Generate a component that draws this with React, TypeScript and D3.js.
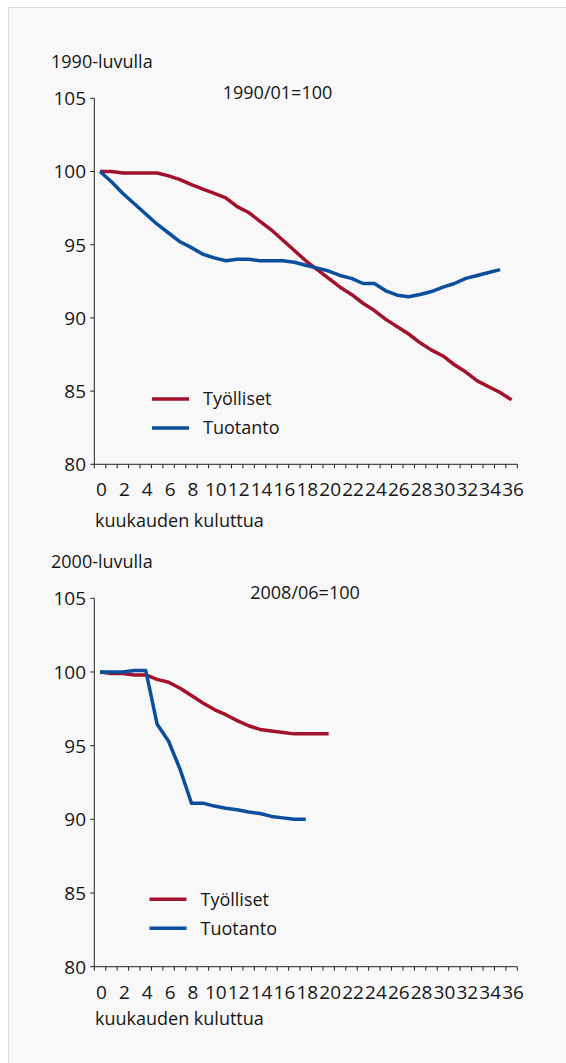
import React from "react";
import * as d3 from "d3";

// kuukaudet 0..36
const months = d3.range(37);
const tickLabels = ["0", "2", "4", "6", "8", "10", "12", "14", "16", "18", "20", "22", "24", "26", "28", "30", "32", "34", "36"];
const yTicks = [80, 85, 90, 95, 100, 105];
const seriesNames = ["Työlliset", "Tuotanto"];

// 1990-luku, 1990/01=100
const tyolliset1990 = [100, 100, 99.9, 99.9, 99.9, 99.9, 99.7, 99.45, 99.1, 98.8, 98.5, 98.2, 97.6, 97.2, 96.6, 96.0, 95.3, 94.6, 93.9, 93.3, 92.7, 92.1, 91.6, 91.0, 90.5, 89.9, 89.4, 88.9, 88.3, 87.8, 87.4, 86.8, 86.3, 85.7, 85.3, 84.9, 84.4];
const tuotanto1990 = [100, 99.3, 98.5, 97.8, 97.1, 96.4, 95.8, 95.2, 94.8, 94.35, 94.1, 93.9, 94.0, 94.0, 93.9, 93.9, 93.9, 93.8, 93.6, 93.4, 93.2, 92.9, 92.7, 92.35, 92.35, 91.85, 91.55, 91.45, 91.6, 91.8, 92.1, 92.35, 92.7, 92.9, 93.1, 93.3];

// 2000-luku, 2008/06=100
const tyolliset2008 = [100, 99.9, 99.9, 99.8, 99.8, 99.5, 99.3, 98.9, 98.4, 97.9, 97.45, 97.1, 96.7, 96.35, 96.1, 96.0, 95.9, 95.8, 95.8, 95.8, 95.8];
const tuotanto2008 = [100, 100, 100, 100.1, 100.1, 96.45, 95.3, 93.4, 91.1, 91.1, 90.9, 90.75, 90.65, 90.5, 90.4, 90.2, 90.1, 90.0, 90.0];

const RED = "#a3122d";
const BLUE = "#0a4f9e";
const FONT = "'Open Sans', 'Noto Sans', sans-serif";

type PanelProps = {
  title: string;
  base: string;
  baseX: number;
  top: number;
  bottom: number;
  employed: number[];
  output: number[];
  legendX: number;
  legendY: number;
  xTitleDy: number;
};

function Panel(p: PanelProps) {
  const x = d3.scaleBand<number>().domain(months).range([94.3, 517.3]).padding(0);
  const y = d3.scaleLinear().domain([80, 105]).range([p.bottom, p.top]);
  const bw = x.bandwidth();
  const line = d3
    .line<number>()
    .x((d, i) => (x(i) as number) + bw / 2)
    .y((d) => y(d));

  const x0 = x.range()[0];
  const x1 = x.range()[1];
  const boundaries = months.map((m) => x(m) as number).concat([x1]);

  return (
    <g fontFamily={FONT} fontSize={18} fill="#161616">
      <text x={51} y={p.top - 30.5}>{p.title}</text>
      <text x={p.baseX} y={p.top + 1} textAnchor="middle">{p.base}</text>

      {/* y-akseli */}
      <line x1={x0} x2={x0} y1={p.top} y2={p.bottom} stroke="#222" strokeWidth={1} />
      {yTicks.map((t) => (
        <g key={t}>
          <line x1={x0 - 4} x2={x0} y1={y(t)} y2={y(t)} stroke="#222" />
          <text x={86} y={y(t)} dy="0.36em" textAnchor="end" fontSize={19}>{t}</text>
        </g>
      ))}

      {/* x-akseli */}
      <line x1={x0} x2={x1} y1={p.bottom} y2={p.bottom} stroke="#222" />
      {boundaries.map((b, i) => (
        <line key={i} x1={b} x2={b} y1={p.bottom} y2={p.bottom + 4} stroke="#222" />
      ))}
      {tickLabels.map((l) => (
        <text key={l} x={(x(+l) as number) + bw / 2 + 1.5} y={p.bottom + 32} textAnchor="middle" fontSize={19}>{l}</text>
      ))}
      <text x={95} y={p.bottom + p.xTitleDy}>kuukauden kuluttua</text>

      <path d={line(p.employed) || ""} fill="none" stroke={RED} strokeWidth={3.5} strokeLinejoin="round" />
      <path d={line(p.output) || ""} fill="none" stroke={BLUE} strokeWidth={3.5} strokeLinejoin="round" />

      {/* selite */}
      {seriesNames.map((n, i) => (
        <g key={n}>
          <line
            x1={p.legendX}
            x2={p.legendX + 37}
            y1={p.legendY + i * 29}
            y2={p.legendY + i * 29}
            stroke={i === 0 ? RED : BLUE}
            strokeWidth={3.5}
          />
          <text x={p.legendX + 51} y={p.legendY + i * 29} dy="0.36em">{n}</text>
        </g>
      ))}
    </g>
  );
}

export default function App() {
  return (
    <svg
      width={566}
      height={1063}
      style={{ position: "absolute", left: 0, top: 0, display: "block" }}
    >
      <rect x={0} y={0} width={566} height={1063} fill="#ffffff" />
      <rect x={8.5} y={7.5} width={570} height={1070} fill="#f8f8f8" stroke="#dcdcdc" strokeWidth={1} />
      <Panel
        title="1990-luvulla"
        base="1990/01=100"
        baseX={277.5}
        top={98.3}
        bottom={464.3}
        employed={tyolliset1990}
        output={tuotanto1990}
        legendX={152}
        legendY={399}
        xTitleDy={62.4}
      />
      <Panel
        title="2000-luvulla"
        base="2008/06=100"
        baseX={305}
        top={598.3}
        bottom={966.7}
        employed={tyolliset2008}
        output={tuotanto2008}
        legendX={149.5}
        legendY={899.3}
        xTitleDy={58.3}
      />
    </svg>
  );
}
